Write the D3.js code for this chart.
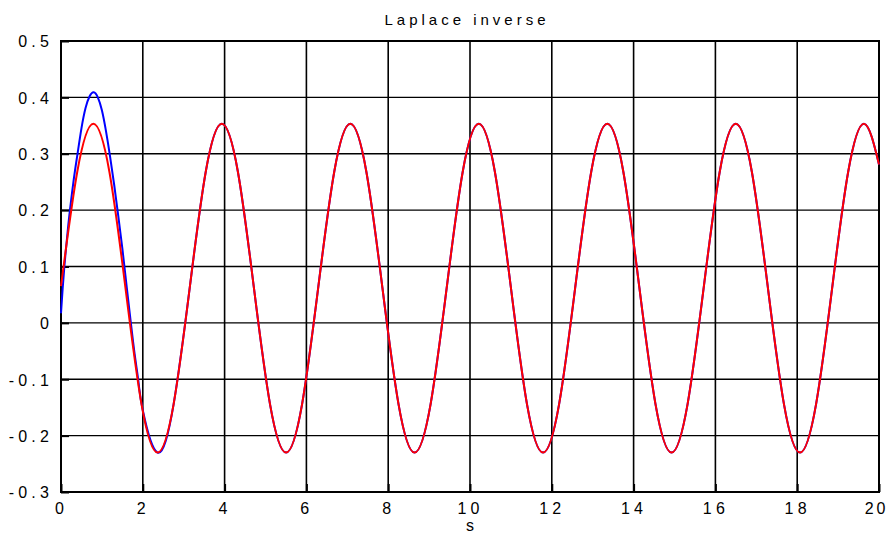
<!DOCTYPE html>
<html>
<head>
<meta charset="utf-8">
<script src="https://cdn.jsdelivr.net/npm/d3@7"></script>
<style>
  body { margin: 0; background: #fff; }
  svg text { font-family: "Liberation Sans", Arial, sans-serif; fill: #000; }
</style>
</head>
<body>
<div id="chart"></div>
<script>
// tick values
const xTicks = [0, 2, 4, 6, 8, 10, 12, 14, 16, 18, 20];
const yTicks = [-0.3, -0.2, -0.1, 0, 0.1, 0.2, 0.3, 0.4, 0.5];

// red curve, read at peaks, troughs and between
const redT = [0, 0.398, 0.790, 1.183, 1.576, 1.968, 2.361, 2.754, 3.147, 3.539,
  3.932, 4.325, 4.717, 5.110, 5.503, 5.895, 6.288, 6.681, 7.074, 7.466,
  7.859, 8.252, 8.644, 9.037, 9.430, 9.822, 10.215, 10.608, 11.001, 11.393,
  11.786, 12.179, 12.571, 12.964, 13.357, 13.749, 14.142, 14.535, 14.928, 15.320,
  15.713, 16.106, 16.498, 16.891, 17.284, 17.676, 18.069, 18.462, 18.855, 19.247,
  19.640, 20];
const redV = [0.065, 0.268, 0.353, 0.268, 0.062, -0.144, -0.230, -0.144, 0.062, 0.268,
  0.353, 0.268, 0.062, -0.144, -0.230, -0.144, 0.062, 0.268, 0.353, 0.268,
  0.062, -0.144, -0.230, -0.144, 0.062, 0.268, 0.353, 0.268, 0.062, -0.144,
  -0.230, -0.144, 0.062, 0.268, 0.353, 0.268, 0.062, -0.144, -0.230, -0.144,
  0.062, 0.268, 0.353, 0.268, 0.062, -0.144, -0.230, -0.144, 0.062, 0.268,
  0.353, 0.281];

// blue curve, start part (from the first trough on it lies on the red one)
const blueT = [0, 0.04, 0.08, 0.12, 0.16, 0.2, 0.3, 0.4, 0.5, 0.6, 0.7, 0.8, 0.9, 1.0,
  1.1, 1.2, 1.3, 1.4, 1.5, 1.6, 1.7, 1.8, 1.9, 2.0];
const blueV = [0.017, 0.060, 0.098, 0.130, 0.160, 0.188, 0.248, 0.298, 0.345, 0.381, 0.402, 0.409, 0.400, 0.377,
  0.340, 0.295, 0.245, 0.190, 0.132, 0.068, 0.005, -0.055, -0.108, -0.155];

const W = 890, H = 536;
const margin = { top: 41, right: 11, bottom: 44, left: 61 };
const width = W - margin.left - margin.right;
const height = H - margin.top - margin.bottom;

const svg = d3.select("#chart").append("svg")
    .attr("width", W)
    .attr("height", H);

const g = svg.append("g")
    .attr("transform", `translate(${margin.left},${margin.top})`);

const x = d3.scaleLinear().domain([0, 20]).range([0, width]);
const y = d3.scaleLinear().domain([-0.3, 0.5]).range([height, 0]);

// grid
g.append("g").selectAll("line")
    .data(xTicks.slice(1, -1))
    .enter().append("line")
    .attr("x1", d => x(d)).attr("x2", d => x(d))
    .attr("y1", 0).attr("y2", height)
    .attr("stroke", "#000").attr("stroke-width", 1.6);

g.append("g").selectAll("line")
    .data(yTicks.slice(1, -1))
    .enter().append("line")
    .attr("x1", 0).attr("x2", width)
    .attr("y1", d => y(d)).attr("y2", d => y(d))
    .attr("stroke", "#000").attr("stroke-width", 1.4);

// axes with labels
const fmt = d => d === 0 ? "0" : d3.format(".1f")(d).replace("−", "-");

const yAxis = g.append("g")
    .call(d3.axisLeft(y).tickValues(yTicks).tickSize(-8).tickPadding(10).tickFormat(fmt));
const xAxis = g.append("g")
    .attr("transform", `translate(0,${height})`)
    .call(d3.axisBottom(x).tickValues(xTicks).tickSize(-8).tickPadding(10).tickFormat(d3.format("d")));

[xAxis, yAxis].forEach(a => {
    a.select(".domain").remove();
    a.selectAll(".tick line").attr("stroke", "#000").attr("stroke-width", 2);
    a.selectAll("text")
        .style("font-family", "'Liberation Sans', Arial, sans-serif")
        .style("font-size", "16px")
        .style("letter-spacing", "4.2px")
        .attr("fill", "#000");
});
yAxis.selectAll("text").attr("x", -8).attr("dy", "0.36em");
xAxis.selectAll("text").attr("y", 11).attr("dy", "0.71em");
xAxis.selectAll("text").filter(d => d === 20)
    .style("letter-spacing", "3px")
    .attr("text-anchor", "end").attr("x", 9);

// frame
g.append("rect")
    .attr("width", width).attr("height", height)
    .attr("fill", "none").attr("stroke", "#000").attr("stroke-width", 2);

// curves
const redPts = redT.map((t, i) => [t, redV[i]]);
const bluePts = blueT.map((t, i) => [t, blueV[i]]).concat(redPts.filter(p => p[0] > 2.3));

const line = d3.line()
    .x(d => x(d[0]))
    .y(d => y(d[1]))
    .curve(d3.curveNatural);

g.append("path").datum(bluePts)
    .attr("d", line)
    .attr("fill", "none").attr("stroke", "#0000ff").attr("stroke-width", 2);

g.append("path").datum(redPts)
    .attr("d", line)
    .attr("fill", "none").attr("stroke", "#ff0000").attr("stroke-width", 2);

// title and x label
svg.append("text")
    .attr("x", margin.left + width / 2 - 3)
    .attr("y", 25)
    .attr("text-anchor", "middle")
    .style("font-size", "15px")
    .style("letter-spacing", "4px")
    .text("Laplace inverse");

svg.append("text")
    .attr("x", margin.left + width / 2)
    .attr("y", 531)
    .attr("text-anchor", "middle")
    .style("font-size", "16px")
    .text("s");
</script>
</body>
</html>
